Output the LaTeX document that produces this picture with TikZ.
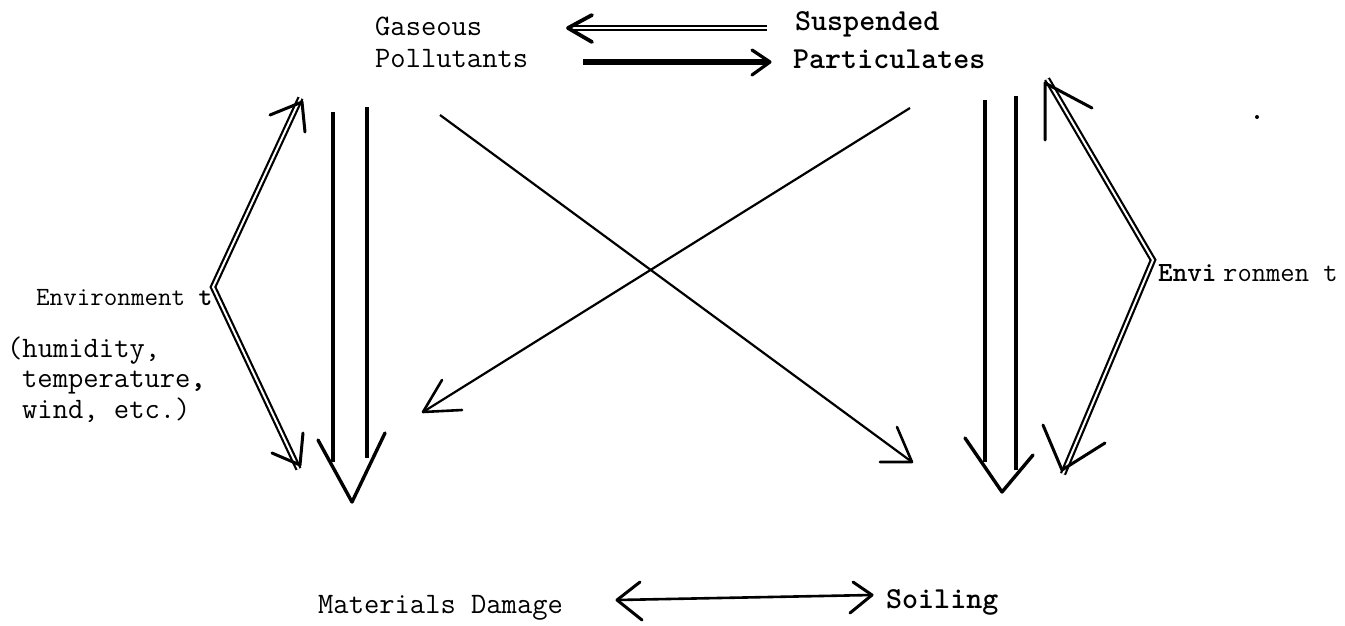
\documentclass[tikz,border=0pt]{standalone}
\usepackage{fontspec}
\begin{document}
\begin{tikzpicture}[x=1pt,y=-1pt]
\useasboundingbox (0,0) rectangle (1345,625);
\tikzset{
 lbl/.style={anchor=base west, inner sep=0pt, font=\ttfamily\fontsize{29.7}{32}\selectfont},
 blbl/.style={anchor=base west, inner sep=0pt, font=\ttfamily\bfseries\fontsize{30.5}{32}\selectfont},
 shaft/.style={line width=4pt},
 xline/.style={line width=2.2pt},
 dbl/.style={double, line width=2.2pt, double distance=2pt, line join=miter},
 head/.style={line width=3pt, line cap=round, line join=round},
}
% texts
\node[lbl] (gas) at (375,35) {Gaseous};
\node[lbl] (pol) at (375,67) {Pollutants};
\node[blbl] (sus) at (795,30) {Suspended};
\node[blbl] (par) at (793,68) {Particulates};
\node[lbl, font=\ttfamily\fontsize{26.3}{28}\selectfont] (envl) at (36,305) {Environment \textbf{t}};
\node[lbl] (hum) at (7,357) {(humidity,};
\node[lbl] (tem) at (22,387) {temperature\textbf{,}};
\node[lbl] (win) at (22,418) {wind, etc.)};
\node[lbl, font=\ttfamily\fontsize{27.8}{30}\selectfont] (envr) at (1158,281) {\textbf{Envi}\hspace{6.6pt}ronmen t};
\node[lbl] (mat) at (318,613) {Materials Damage};
\node[blbl] (soi) at (886,608) {Soiling};
% coordinates
\coordinate (ua1) at (767,28); \coordinate (ua2) at (568,28);
\coordinate (la1) at (583,62); \coordinate (la2) at (770,62);
\coordinate (lv) at (213,287); \coordinate (lt) at (302,102); \coordinate (lb) at (300,465);
\coordinate (l1a) at (333,112); \coordinate (l1b) at (333,462);
\coordinate (l2a) at (367,107); \coordinate (l2b) at (367,458);
\coordinate (lh) at (352,502);
\coordinate (c1a) at (440,115); \coordinate (c1b) at (912,462);
\coordinate (c2a) at (910,108); \coordinate (c2b) at (423,412);
\coordinate (r1a) at (985,100); \coordinate (r1b) at (985,462);
\coordinate (r2a) at (1016,96); \coordinate (r2b) at (1016,470);
\coordinate (rh) at (1002,492);
\coordinate (rv) at (1153,260); \coordinate (rt) at (1045,83); \coordinate (rb) at (1062,470);
\coordinate (ba) at (617,600); \coordinate (bb) at (872,595);
% top arrows
\draw[double, line width=2.4pt, double distance=1.4pt] (ua1) -- ([xshift=4pt]ua2);
\draw[head, line width=3.8pt] (592,15) -- (ua2) -- (592,42);
\draw[line width=5.5pt] (la1) -- ([xshift=-3pt]la2);
\draw[head, line width=3.2pt] (752,50) -- (la2) -- (752,75);
% left V
\draw[dbl] ([shift={(-1.5pt,4pt)}]lt) -- (lv) -- ([shift={(-1.5pt,-4pt)}]lb);
\draw[head] (270,115) -- (lt) -- (305,132);
\draw[head] (272,453) -- (lb) -- (303,433);
% left verticals
\draw[shaft] (l1a) -- (l1b);
\draw[shaft] (l2a) -- (l2b);
\draw[head, line width=3.4pt] (318,440) -- (lh) -- (385,433);
% cross
\draw[xline] (c1a) -- (c1b);
\draw[head, line width=2.6pt] (897,427) -- (c1b) -- (880,462);
\draw[xline] (c2a) -- (c2b);
\draw[head, line width=2.6pt] (442,380) -- (c2b) -- (462,410);
% right verticals
\draw[shaft] (r1a) -- (r1b);
\draw[shaft] (r2a) -- (r2b);
\draw[head, line width=3.4pt] (965,438) -- (rh) -- (1033,455);
% right V
\draw[dbl] ([shift={(2pt,4pt)}]rt) -- (rv) -- ([shift={(1pt,-4pt)}]rb);
\draw[head] (1045,140) -- (rt) -- (1092,108);
\draw[head] (1043,425) -- (rb) -- (1105,443);
% bottom
\draw[line width=2.6pt] (ba) -- (bb);
\draw[head] (640,582) -- (ba) -- (642,620);
\draw[head] (853,582) -- (bb) -- (850,613);
% speck
\fill (1257,117) circle (2pt);
\end{tikzpicture}
\end{document}
